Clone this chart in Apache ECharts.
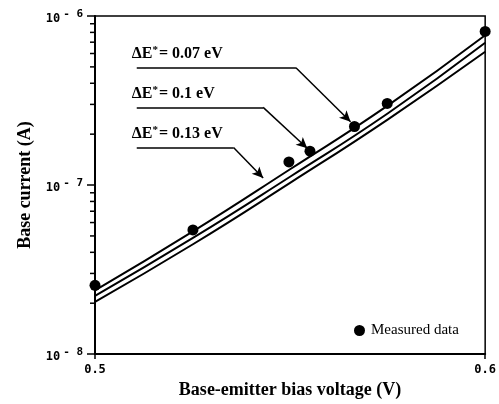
<!DOCTYPE html>
<html>
<head>
<meta charset="utf-8">
<script src="https://cdn.jsdelivr.net/npm/echarts@6/dist/echarts.min.js"></script>
<style>html,body{margin:0;padding:0;background:#fff}#c{width:499px;height:404px}</style>
</head>
<body>
<div id="c"></div>
<script>
// ---- data ----
const voltage = [0.5, 0.525, 0.55, 0.575, 0.6];
const current007 = [2.38e-8, 5.3e-8, 1.24e-7, 2.95e-7, 7.7e-7];
const current010 = [2.21e-8, 4.85e-8, 1.12e-7, 2.65e-7, 6.94e-7];
const current013 = [2.04e-8, 4.45e-8, 1.03e-7, 2.44e-7, 6.14e-7];
const measuredV = [0.5, 0.5251, 0.5497, 0.5551, 0.5665, 0.5749, 0.6];
const measuredI = [2.55e-8, 5.43e-8, 1.37e-7, 1.585e-7, 2.22e-7, 3.04e-7, 8.1e-7];
const xTicks = [0.5, 0.6];
const yTicks = [1e-8, 1e-7, 1e-6];
const yMinorTicks = [2e-8,3e-8,4e-8,5e-8,6e-8,7e-8,8e-8,9e-8,2e-7,3e-7,4e-7,5e-7,6e-7,7e-7,8e-7,9e-7];
const curveLabels = ['0.07', '0.1', '0.13'];
// leader lines: [start, corner, tip] in data coords
const leader007 = [[0.5107, 4.94e-7], [0.5515, 4.94e-7], [0.5655, 2.37e-7]];
const leader010 = [[0.5107, 2.88e-7], [0.5431, 2.88e-7], [0.5544, 1.65e-7]];
const leader013 = [[0.5107, 1.67e-7], [0.5355, 1.67e-7], [0.5431, 1.1e-7]];

const zip = (xs, ys) => xs.map((x, i) => [x, ys[i]]);
const serif = 'Liberation Serif';

function leaderMarkLine(leader, label) {
  return {
    silent: true,
    animation: false,
    lineStyle: { color: '#000', width: 1.5, type: 'solid', opacity: 1 },
    symbolSize: [8, 11],
    data: [
      [
        { coord: leader[0], symbol: 'none',
          label: { show: true, position: 'insideStartTop', distance: [-5, 4],
            formatter: '{b|\u0394E}{s|*}{b|= ' + label + ' eV}',
            rich: {
              b: { fontFamily: serif, fontSize: 16, color: '#000', fontWeight: 'bold' },
              s: { fontFamily: serif, fontSize: 11, color: '#000', fontWeight: 'bold', padding: [0, 1, 8, 0] }
            } } },
        { coord: leader[1], symbol: 'none' }
      ],
      [
        { coord: leader[1], symbol: 'none', label: { show: false } },
        { coord: leader[2], symbol: 'arrow' }
      ]
    ]
  };
}

function curve(name, ys, leader, label) {
  return {
    name: name, type: 'line', data: zip(voltage, ys), smooth: true,
    showSymbol: false, silent: true,
    lineStyle: { color: '#000', width: 2 },
    z: 2,
    markLine: leaderMarkLine(leader, label)
  };
}

const chart = echarts.init(document.getElementById('c'), null, { renderer: 'canvas' });
chart.setOption({
  animation: false,
  backgroundColor: '#fff',
  grid: { left: 95, right: 9, top: 16, bottom: 47, show: true, borderColor: '#000', borderWidth: 1.5 },
  legend: {
    data: ['Measured data'], left: 349, top: 318, icon: 'circle', itemWidth: 11, itemHeight: 11,
    textStyle: { fontFamily: serif, fontSize: 15, color: '#000', padding: [0, 0, 0, 1] },
    selectedMode: false
  },
  xAxis: {
    type: 'value', min: xTicks[0], max: xTicks[xTicks.length - 1], interval: 0.1,
    name: 'Base-emitter bias voltage (V)', nameLocation: 'middle', nameGap: 21,
    nameTextStyle: { fontFamily: serif, fontSize: 18, color: '#000', fontWeight: 'bold' },
    axisLine: { show: true, lineStyle: { color: '#000', width: 2 } },
    axisTick: { show: true, inside: false, length: 5, lineStyle: { color: '#000', width: 1.5 } },
    axisLabel: { color: '#000', fontFamily: 'DejaVu Sans Mono', fontSize: 12, fontWeight: 'bold', margin: 10,
      formatter: v => v.toFixed(1) },
    splitLine: { show: false }
  },
  yAxis: {
    type: 'log', logBase: 10, min: yTicks[0], max: yTicks[yTicks.length - 1],
    name: 'Base current (A)', nameLocation: 'middle', nameGap: 60,
    nameTextStyle: { fontFamily: serif, fontSize: 18, color: '#000', fontWeight: 'bold' },
    axisLine: { show: true, lineStyle: { color: '#000', width: 2 } },
    axisTick: { show: true, length: 8, lineStyle: { color: '#000', width: 1.5 } },
    axisLabel: { margin: 12, color: '#000',
      formatter: v => '{b|10}{s|- ' + Math.abs(Math.round(Math.log10(v))) + '}',
      rich: {
        b: { fontFamily: 'DejaVu Sans Mono', fontSize: 12, fontWeight: 'bold', color: '#000', padding: [6, 0, 0, 0] },
        s: { fontFamily: 'DejaVu Sans Mono', fontSize: 11, fontWeight: 'bold', color: '#000', padding: [0, 0, 4, 3] }
      } },
    splitLine: { show: false }
  },
  series: [
    curve('c007', current007, leader007, curveLabels[0]),
    curve('c010', current010, leader010, curveLabels[1]),
    curve('c013', current013, leader013, curveLabels[2]),
    {
      name: 'Measured data', type: 'scatter', data: zip(measuredV, measuredI),
      symbol: 'circle', symbolSize: 11, itemStyle: { color: '#000', opacity: 1 }, z: 5
    },
    {
      name: 'minorTicks', type: 'custom', data: yMinorTicks.map(v => [xTicks[0], v]), clip: false,
      silent: true,
      renderItem: (params, api) => {
        const p = api.coord([api.value(0), api.value(1)]);
        return { type: 'line', shape: { x1: p[0] - 5, y1: p[1], x2: p[0], y2: p[1] },
          style: { stroke: '#000', lineWidth: 1.5 } };
      }
    }
  ]
});
</script>
</body>
</html>
